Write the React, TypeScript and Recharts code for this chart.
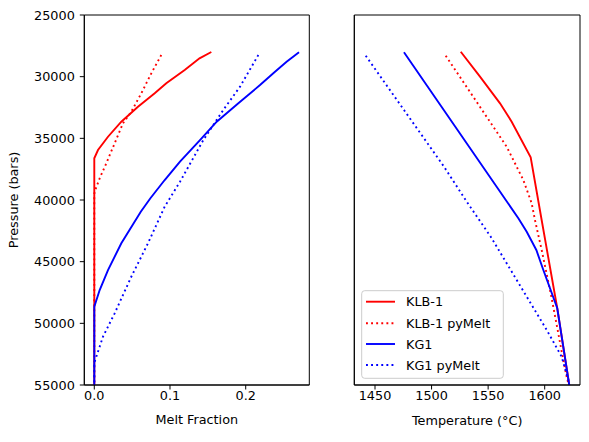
import { Label, Line, LineChart, ReferenceArea, XAxis, YAxis } from 'recharts'

const RED = '#ff0000'
const BLUE = '#0000ff'
const FONT = 'DejaVu Sans'

// [pressure (bars), melt fraction]
const KLB1_MELT: [number, number][] = [
  [28000, 0.1546], [28510, 0.139], [29460, 0.1194], [30540, 0.0951],
  [31350, 0.0798], [32440, 0.0577], [33650, 0.0357], [34870, 0.0181],
  [35950, 0.0049], [36620, 0], [55000, 0]
]
const KLB1_PY_MELT: [number, number][] = [
  [28240, 0.0885], [29730, 0.0753], [31350, 0.0621], [32840, 0.0489],
  [33780, 0.0379], [35400, 0.0269], [37020, 0.0159], [38240, 0.0071],
  [39190, 0.0013], [39500, 0], [55000, 0]
]
const KG1_MELT: [number, number][] = [
  [28020, 0.2704], [28790, 0.254], [29600, 0.2387], [30680, 0.2189],
  [32160, 0.1903], [33650, 0.1617], [35140, 0.1396], [36890, 0.1132],
  [38380, 0.093], [39860, 0.0741], [40950, 0.0614], [43510, 0.0357],
  [45680, 0.0181], [47300, 0.0071], [48650, 0], [55000, 0]
]
const KG1_PY_MELT: [number, number][] = [
  [28240, 0.2167], [30810, 0.1925], [32700, 0.1704], [35140, 0.144],
  [38520, 0.1132], [40540, 0.093], [43510, 0.0709], [46220, 0.0489],
  [49190, 0.0269], [51080, 0.0115], [53110, 0.0005], [53300, 0], [55000, 0]
]

// [pressure (bars), temperature (°C)]
const KLB1_TEMP: [number, number][] = [
  [27980, 1525.8], [30000, 1542.8], [32160, 1560.5], [33650, 1570.8],
  [36540, 1587.6], [41620, 1597.3], [48780, 1611.1], [55000, 1621.7]
]
const KLB1_PY_TEMP: [number, number][] = [
  [28300, 1512.5], [35680, 1566.4], [38380, 1581.1], [40270, 1588.5],
  [41620, 1591.4], [44050, 1597.3], [47570, 1605.3], [50810, 1612.0],
  [52970, 1616.4], [54590, 1620.0], [55000, 1621.7]
]
const KG1_TEMP: [number, number][] = [
  [28020, 1475.6], [41480, 1576.7], [42570, 1584.1], [44050, 1592.6],
  [45680, 1598.8], [48780, 1611.1], [55000, 1621.7]
]
const KG1_PY_TEMP: [number, number][] = [
  [28300, 1441.8], [32700, 1475.6], [37300, 1511.0], [40140, 1531.1],
  [42980, 1552.3], [47840, 1584.1], [50540, 1601.8], [52710, 1615.0],
  [54590, 1620.9], [55000, 1621.7]
]

const PRESSURE_DOMAIN = [25000, 55000]
const PRESSURE_TICKS = [25000, 30000, 35000, 40000, 45000, 50000, 55000]
const MELT_DOMAIN = [-0.0132, 0.284]
const MELT_TICKS = [0, 0.1, 0.2]
const TEMP_DOMAIN = [1431.7, 1631.2]
const TEMP_TICKS = [1450, 1500, 1550, 1600]

const SERIES = [
  { name: 'KLB-1', color: RED, dotted: false },
  { name: 'KLB-1 pyMelt', color: RED, dotted: true },
  { name: 'KG1', color: BLUE, dotted: false },
  { name: 'KG1 pyMelt', color: BLUE, dotted: true }
]

const toPoints = (pairs: [number, number][]) => pairs.map(([p, v]) => ({ p, v }))

const tickStyle = { fontSize: 12.8, fill: '#000', fontFamily: FONT }
const axisLine = { stroke: '#000', strokeWidth: 1 }
const DASH = '1.9 3.2'

function Panel ({ series, domain, ticks, fmt, width, yWidth, right, showY, xLabel, labelOffset }: any) {
  return (
    <LineChart
      width={width}
      height={442}
      margin={{ top: 15, right, bottom: 17, left: 0 }}
    >
      <XAxis
        type='number'
        dataKey='v'
        domain={domain}
        ticks={ticks}
        allowDataOverflow
        tickFormatter={fmt}
        tick={tickStyle}
        tickSize={4.5}
        tickMargin={1}
        tickLine={axisLine}
        axisLine={axisLine}
        height={40}
      >
        <Label
          value={xLabel}
          position='insideBottom'
          offset={labelOffset}
          style={{ fontSize: 12.8, fill: '#000', fontFamily: FONT }}
        />
      </XAxis>
      <YAxis
        type='number'
        dataKey='p'
        domain={PRESSURE_DOMAIN}
        ticks={PRESSURE_TICKS}
        reversed
        allowDataOverflow
        width={yWidth}
        tick={showY ? tickStyle : false}
        tickSize={4.5}
        tickMargin={5}
        tickLine={axisLine}
        axisLine={axisLine}
      >
        {showY && (
          <Label
            content={() => (
              <text
                x={18}
                y={200}
                transform='rotate(-90 18 200)'
                textAnchor='middle'
                fontSize={12.8}
                fontFamily={FONT}
                fill='#000'
              >
                Pressure (bars)
              </text>
            )}
          />
        )}
      </YAxis>
      {/* frame: top and right spines */}
      <ReferenceArea
        x1={domain[0]}
        x2={domain[1]}
        y1={PRESSURE_DOMAIN[0]}
        y2={PRESSURE_DOMAIN[1]}
        fill='none'
        fillOpacity={0}
        stroke='#000'
        strokeWidth={1}
        ifOverflow='visible'
      />
      {series.map((s: [number, number][], i: number) => (
        <Line
          key={SERIES[i].name}
          data={toPoints(s)}
          dataKey='p'
          type='linear'
          stroke={SERIES[i].color}
          strokeWidth={1.9}
          strokeDasharray={SERIES[i].dotted ? DASH : undefined}
          dot={false}
          activeDot={false}
          isAnimationActive={false}
        />
      ))}
    </LineChart>
  )
}

function LegendBox () {
  const rows = [301.7, 323.3, 344, 365]
  return (
    <svg
      width={589}
      height={442}
      style={{ position: 'absolute', left: 0, top: 0, pointerEvents: 'none' }}
    >
      <rect
        x={361.7}
        y={290.7}
        width={141.6}
        height={87.6}
        rx={3}
        fill='rgba(255,255,255,0.8)'
        stroke='#cccccc'
        strokeWidth={1}
      />
      {SERIES.map((s, i) => (
        <g key={s.name}>
          <line
            x1={366}
            x2={395}
            y1={rows[i]}
            y2={rows[i]}
            stroke={s.color}
            strokeWidth={1.9}
            strokeDasharray={s.dotted ? DASH : undefined}
          />
          <text
            x={406}
            y={rows[i] + 4.6}
            fontSize={12.8}
            fontFamily={FONT}
            fill='#000'
          >
            {s.name}
          </text>
        </g>
      ))}
    </svg>
  )
}

export default function App () {
  return (
    <div style={{ position: 'absolute', left: 0, top: 0, width: 589, height: 442, background: '#fff' }}>
      <div style={{ position: 'absolute', left: 0, top: 0 }}>
        <Panel
          series={[KLB1_MELT, KLB1_PY_MELT, KG1_MELT, KG1_PY_MELT]}
          domain={MELT_DOMAIN}
          ticks={MELT_TICKS}
          fmt={(v: number) => v.toFixed(1)}
          width={330}
          yWidth={84.3}
          right={20.7}
          showY
          xLabel='Melt Fraction'
          labelOffset={1.5}
        />
      </div>
      <div style={{ position: 'absolute', left: 330, top: 0 }}>
        <Panel
          series={[KLB1_TEMP, KLB1_PY_TEMP, KG1_TEMP, KG1_PY_TEMP]}
          domain={TEMP_DOMAIN}
          ticks={TEMP_TICKS}
          fmt={(v: number) => String(v)}
          width={259}
          yWidth={24.3}
          right={9}
          showY={false}
          xLabel='Temperature (°C)'
          labelOffset={0}
        />
      </div>
      <LegendBox />
    </div>
  )
}
